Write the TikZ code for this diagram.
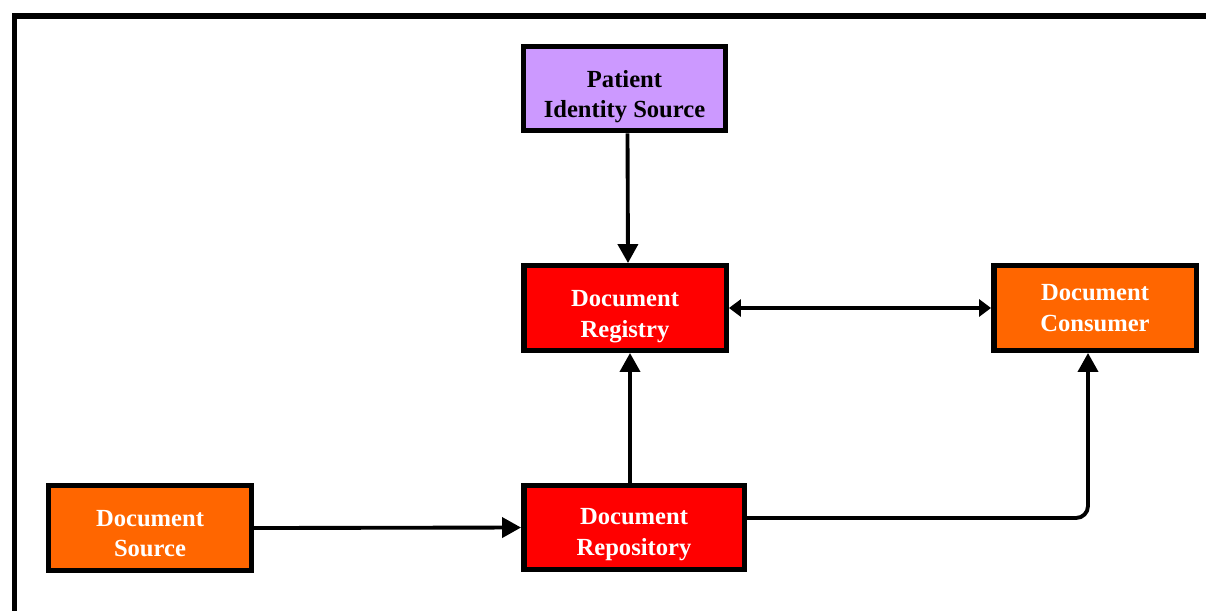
\documentclass[tikz,border=0pt]{standalone}
\usepackage{fontspec}
\setmainfont{Liberation Serif}
\usetikzlibrary{arrows.meta}

\definecolor{pidviolet}{HTML}{CC99FF}
\definecolor{actorred}{HTML}{FF0000}
\definecolor{actororange}{HTML}{FF6600}

\tikzset{
  actor/.style={draw=black, line width=3.1pt, minimum width=4.05cm, minimum height=1.69cm,
    align=center, font=\fontsize{14}{17.5}\selectfont\bfseries, inner sep=0pt},
  conn/.style={line width=2.2pt, -{Triangle[length=0.38cm,width=0.4cm]}},
  both/.style={line width=2.2pt, {Triangle[length=0.24cm,width=0.34cm]}-{Triangle[length=0.24cm,width=0.34cm]}}
}

\begin{document}
\begin{tikzpicture}[x=0.02cm, y=-0.02cm]
			\useasboundingbox (0,0) rectangle (1206,610);
			\clip (0,0) rectangle (1206,610);
			\fill[white] (0,0) rectangle (1206,610);
			% outer frame, runs off to the right and bottom
			\draw[line width=3.2pt] (14.5,15.7) rectangle (1240,650);
			\node[actor, fill=pidviolet, text height=36.5pt] (patient) at (624.5,88.5) {Patient\\Identity Source};
			\node[actor, fill=actorred, text=white, text height=36.5pt] (registry) at (625,308) {Document\\Registry};
			\node[actor, fill=actororange, text=white] (consumer) at (1095,308) {Document\\Consumer};
			\node[actor, fill=actororange, text=white, text height=33pt] (source) at (150,528) {Document\\Source};
			\node[actor, fill=actorred, text=white, text height=34.5pt, minimum width=4.41cm] (repository) at (634,527.5) {Document\\Repository};
			\draw[conn] ([xshift=0.06cm]patient.south) -- ([xshift=0.06cm]registry.north);
			\draw[both] (registry.east) -- (consumer.west);
			\draw[conn] ([xshift=0.1cm]registry.south |- repository.north) -- ([xshift=0.1cm]registry.south);
			\draw[conn] (source.east) -- (repository.west);
			\draw[conn, rounded corners=0.24cm] ([yshift=0.19cm]repository.east) -| ([xshift=-0.14cm]consumer.south);
		\end{tikzpicture}
\end{document}
